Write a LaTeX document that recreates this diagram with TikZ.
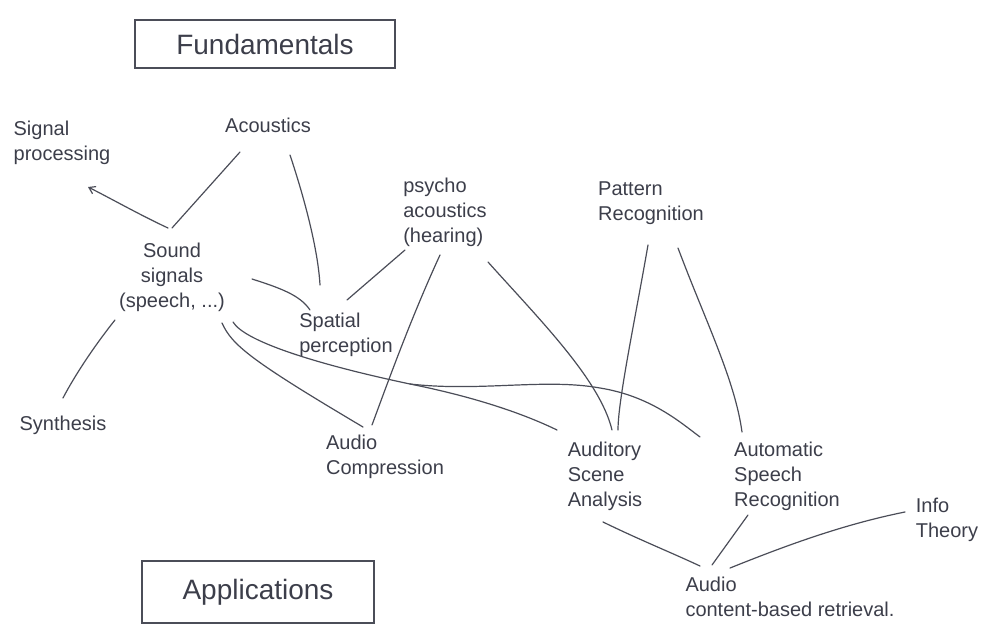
\documentclass[tikz,border=0pt]{standalone}
\usepackage{fontspec}
\setmainfont{Liberation Sans}
\usetikzlibrary{calc,arrows.meta}
\definecolor{ink}{RGB}{60,62,74}
\definecolor{pen}{RGB}{75,77,88}
\tikzset{
  lbl/.style={text=ink, font=\fontsize{20}{25}\selectfont, inner sep=1pt},
  lblL/.style={lbl, align=left},
  lblC/.style={lbl, align=center},
  framebox/.style={draw=pen, line width=1.1pt, text=ink, font=\fontsize{28}{30}\selectfont, inner sep=4pt},
  link/.style={draw=pen, line width=1.2pt, line cap=round},
  arrowlink/.style={link, -{Straight Barb[length=6pt,width=8pt]}}
}
\begin{document}
\begin{tikzpicture}[x=1pt,y=-1pt]
\useasboundingbox (0,0) rectangle (989,635);
% headings
\node[framebox, minimum width=260pt, minimum height=48pt] (fund) at (265,44) {Fundamentals};
\node[framebox, minimum width=232pt, minimum height=62pt] (app) at (258,592) {Applications};
% topics
\node[lblL] (sigproc) at (62,143) {Signal\\processing};
\node[lbl] (acoustics) at (268,125) {Acoustics};
\node[lblC] (sound) at (172,277) {Sound\\signals\\(speech, ...)};
\node[lblL] (psycho) at (445,212) {psycho\\acoustics\\(hearing)};
\node[lblL] (pattern) at (651,203) {Pattern\\Recognition};
\node[lblL] (spatial) at (346,335) {Spatial\\perception};
\node[lbl] (synthesis) at (63,425) {Synthesis};
\node[lblL] (audiocomp) at (385,457) {Audio\\Compression};
\node[lblL] (asa) at (605,476) {Auditory\\Scene\\Analysis};
\node[lblL] (asr) at (787,476) {Automatic\\Speech\\Recognition};
\node[lblL] (info) at (947,520) {Info\\Theory};
\node[lblL] (retrieval) at (790,597) {Audio\\content-based retrieval.};
\coordinate (branch) at (410,384);
% connectors
\draw[arrowlink] ($(sound)+(-4,-49)$) .. controls (140,215) and (110,198) .. ($(sigproc)+(26,44)$);
\draw[link] ($(acoustics)+(-28,27)$) -- ($(sound)+(0,-49)$);
\draw[link] ($(acoustics)+(22,30)$) .. controls (305,200) and (318,250) .. ($(spatial)+(-26,-50)$);
\draw[link] ($(psycho)+(-40,38)$) -- ($(spatial)+(1,-35)$);
\draw[link] ($(sound)+(80,2)$) .. controls (280,288) and (300,295) .. ($(spatial)+(-36,-25)$);
\draw[link] ($(sound)+(50,46)$) .. controls (232,345) and (250,360) .. ($(audiocomp)+(-22,-30)$);
\draw[link] ($(sound)+(61,45)$) .. controls (245,342) and (320,365) .. (branch)
   .. controls (470,396) and (520,412) .. ($(asa)+(-48,-46)$);
\draw[link] (branch) .. controls (480,392) and (545,378) .. (600,388)
   .. controls (650,396) and (680,422) .. ($(asr)+(-87,-39)$);
\draw[link] ($(psycho)+(-5,43)$) .. controls (410,320) and (385,390) .. ($(audiocomp)+(-13,-32)$);
\draw[link] ($(psycho)+(43,50)$) .. controls (540,320) and (600,380) .. ($(asa)+(7,-46)$);
\draw[link] ($(pattern)+(-3,42)$) .. controls (635,320) and (618,400) .. ($(asa)+(13,-46)$);
\draw[link] ($(pattern)+(27,45)$) .. controls (705,320) and (735,380) .. ($(asr)+(-45,-44)$);
\draw[link] ($(sound)+(-57,43)$) .. controls (95,345) and (75,375) .. ($(synthesis)+(0,-27)$);
\draw[link] ($(asa)+(-2,46)$) .. controls (640,540) and (670,552) .. ($(retrieval)+(-90,-31)$);
\draw[link] ($(asr)+(-39,39)$) -- ($(retrieval)+(-78,-32)$);
\draw[link] ($(info)+(-42,-8)$) .. controls (840,525) and (780,548) .. ($(retrieval)+(-60,-29)$);
\end{tikzpicture}
\end{document}
